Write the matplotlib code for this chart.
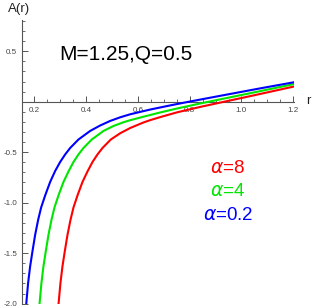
import matplotlib
matplotlib.use("Agg")
import matplotlib.pyplot as plt
import numpy as np

plt.rcParams['font.family'] = ['Liberation Sans', 'DejaVu Sans']
plt.rcParams['axes.unicode_minus'] = False
plt.rcParams['mathtext.fontset'] = 'dejavusans'

# data
r_blue = [0.168, 0.1756, 0.1834, 0.1923, 0.2027, 0.2143, 0.2259, 0.2414, 0.2607, 0.2801, 0.2994,
          0.3188, 0.3381, 0.3702, 0.4155, 0.4542, 0.4928, 0.5315, 0.5702, 0.6476, 0.7250, 0.8023,
          0.9184, 1.0731, 1.2047]
A_blue = [-2.014, -1.796, -1.632, -1.484, -1.320, -1.171, -1.048, -0.929, -0.795, -0.686, -0.597,
          -0.522, -0.458, -0.374, -0.289, -0.235, -0.190, -0.154, -0.124, -0.077, -0.036, 0.003,
          0.059, 0.133, 0.194]

r_green = [0.2193, 0.2271, 0.2348, 0.2437, 0.2542, 0.2658, 0.2774, 0.2928, 0.3122, 0.3315, 0.3509,
           0.3702, 0.3896, 0.4217, 0.4669, 0.5056, 0.5443, 0.5702, 0.6217, 0.6863, 0.7509, 0.8410,
           0.9184, 1.0344, 1.2047]
A_green = [-2.014, -1.796, -1.632, -1.484, -1.320, -1.171, -1.048, -0.929, -0.795, -0.691, -0.597,
           -0.522, -0.458, -0.374, -0.289, -0.240, -0.203, -0.183, -0.148, -0.106, -0.067, -0.017,
           0.024, 0.085, 0.176]

r_red = [0.2928, 0.3006, 0.3083, 0.3172, 0.3277, 0.3393, 0.3509, 0.3663, 0.3857, 0.4050, 0.4244,
         0.4437, 0.4631, 0.4952, 0.5315, 0.5702, 0.6217, 0.6476, 0.6863, 0.7509, 0.8410, 0.9184,
         1.0344, 1.2047]
A_red = [-2.014, -1.796, -1.632, -1.484, -1.320, -1.171, -1.048, -0.929, -0.795, -0.691, -0.597,
         -0.522, -0.458, -0.374, -0.312, -0.260, -0.205, -0.182, -0.152, -0.105, -0.051, -0.008,
         0.056, 0.152]

x_major = [0.2, 0.4, 0.6, 0.8, 1.0, 1.2]
x_labels = ["0.2", "0.4", "0.6", "0.8", "1.0", "1.2"]
y_major = [-2.0, -1.5, -1.0, -0.5, 0.5]
y_labels = ["-2.0", "-1.5", "-1.0", "-0.5", "0.5"]

legend_labels = [r"$\alpha$=8", r"$\alpha$=4", r"$\alpha$=0.2"]
colors = ["#ff0000", "#00e600", "#0000ff"]

W, H = 313, 308
fig = plt.figure(figsize=(W / 100, H / 100), dpi=100)
left, right, top, bottom = 22 / W, 294 / W, 1 - 20 / H, 1 - 303.6 / H
ax = fig.add_axes([left, bottom, right - left, top - bottom])

ax.set_xlim(0.152, 1.203)
ax.set_ylim(-2.0, 0.81)

for r, A, c in [(r_red, A_red, colors[0]), (r_green, A_green, colors[1]), (r_blue, A_blue, colors[2])]:
    ax.plot(r, A, color=c, lw=1.5, zorder=3, solid_capstyle='butt', solid_joinstyle='round')

axis_col = "#555555"
for s in ["top", "right"]:
    ax.spines[s].set_visible(False)
ax.spines["bottom"].set_position(("data", 0))
ax.spines["left"].set_color(axis_col)
ax.spines["bottom"].set_color(axis_col)
ax.spines["left"].set_linewidth(0.8)
ax.spines["bottom"].set_linewidth(0.8)

ax.set_xticks(x_major)
ax.set_xticklabels(x_labels)
ax.set_xticks(np.arange(0.25, 1.21, 0.05), minor=True)
ax.set_yticks(y_major)
ax.set_yticklabels(y_labels)
yminor = [v for v in np.round(np.arange(-2.0, 0.85, 0.1), 2) if abs(v) > 1e-9]
ax.set_yticks(yminor, minor=True)

ax.tick_params(axis='both', which='major', direction='in', length=4, width=0.7,
               color=axis_col, labelsize=5.8, labelcolor="#444444")
ax.tick_params(axis='both', which='minor', direction='in', length=2.3, width=0.6, color=axis_col)
ax.tick_params(axis='x', which='major', pad=3.6)
ax.tick_params(axis='y', which='major', pad=3.4)

fig.text(8 / W, 1 - 9 / H, "A(r)", fontsize=9.5, ha='left', va='center', color="#222222")
fig.text(306 / W, 1 - 101.5 / H, "r", fontsize=9.5, ha='left', va='center', color="#222222")
fig.text(59 / W, 1 - 55 / H, "M=1.25,Q=0.5", fontsize=15, ha='left', va='center', color="black")

ys = [168.5, 191.5, 216]
for lab, c, y in zip(legend_labels, colors, ys):
    fig.text(228 / W, 1 - y / H, lab, fontsize=13.5, ha='center', va='center', color=c)

fig.savefig("out.png", dpi=100)
